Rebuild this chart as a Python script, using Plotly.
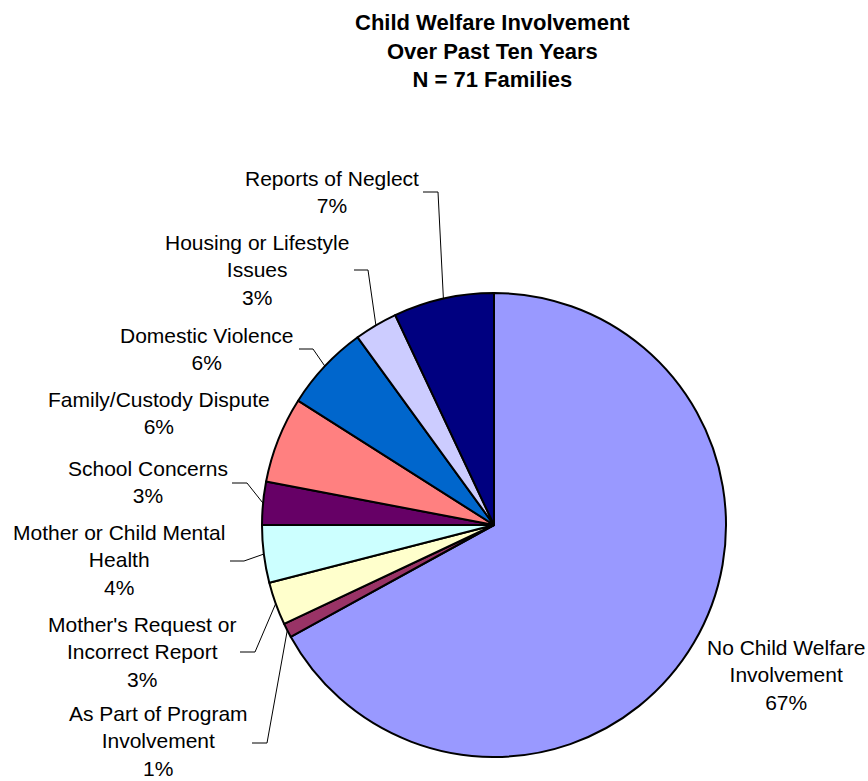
import math
import plotly.graph_objects as go

# data (slices in clockwise order from 12 o'clock)
categories = [
    "No Child Welfare<br>Involvement",
    "As Part of Program<br>Involvement",
    "Mother's Request or<br>Incorrect Report",
    "Mother or Child Mental<br>Health",
    "School Concerns",
    "Family/Custody Dispute",
    "Domestic Violence",
    "Housing or Lifestyle<br>Issues",
    "Reports of Neglect",
]
percents = [67, 1, 3, 4, 3, 6, 6, 3, 7]
colors = ["#9999FF", "#993366", "#FFFFCC", "#CCFFFF", "#660066",
          "#FF8080", "#0066CC", "#CCCCFF", "#000080"]

# layout (pixels in the 868x781 page)
W, H = 868, 781
CX, CY, R = 494, 525, 232

# label centre and leader elbow / end for each slice (None = no leader line)
label_pos = [(786, 675), (158, 741), (142, 652), (119, 560), (148, 482),
             (159, 413), (207, 349), (257, 270), (332, 192)]
leaders = [None, ((267, 743), (252, 743)), ((255, 652), (240, 652)),
           ((244, 561), (230, 561)), ((247, 483), (232, 483)), None,
           ((313, 349), (299, 349)), ((368, 270), (354, 270)),
           ((438, 192), (423, 192))]


def px(x):
    return x / W


def py(y):
    return 1 - y / H


fig = go.Figure()

fig.add_trace(go.Pie(
    labels=categories,
    values=percents,
    marker=dict(colors=colors, line=dict(color="black", width=2)),
    sort=False,
    direction="clockwise",
    rotation=0,
    textinfo="none",
    hoverinfo="label+percent",
    domain=dict(x=[px(CX - R), px(CX + R)], y=[py(CY + R), py(CY - R)]),
    showlegend=False,
))

annotations = []
shapes = []
total = sum(percents)
cum = 0
for i, (cat, p) in enumerate(zip(categories, percents)):
    mid = math.radians(360 * (cum + p / 2) / total)
    cum += p
    lx, ly = label_pos[i]
    annotations.append(dict(
        x=px(lx), y=py(ly), xref="paper", yref="paper",
        text=f"{cat}<br>{p}%", showarrow=False,
        xanchor="center", yanchor="middle", align="center",
        font=dict(size=21, color="black"),
    ))
    if leaders[i] is not None:
        ex = CX + R * math.sin(mid)
        ey = CY - R * math.cos(mid)
        (bx, by), (tx, ty) = leaders[i]
        shapes.append(dict(
            type="path", xref="paper", yref="paper",
            path=f"M {px(ex)},{py(ey)} L {px(bx)},{py(by)} L {px(tx)},{py(ty)}",
            line=dict(color="black", width=1),
        ))

annotations.append(dict(
    x=px(492), y=py(51), xref="paper", yref="paper",
    text="<b>Child Welfare Involvement<br>Over Past Ten Years<br>N = 71 Families</b>",
    showarrow=False, xanchor="center", yanchor="middle", align="center",
    font=dict(size=22, color="black"),
))

fig.update_layout(
    width=W, height=H,
    margin=dict(l=0, r=0, t=0, b=0),
    paper_bgcolor="white",
    plot_bgcolor="white",
    font=dict(family="Liberation Sans, Arial, sans-serif", color="black"),
    annotations=annotations,
    shapes=shapes,
)

# drop the default body margin so the figure fills the window exactly
fig.write_html("out.html", config={"displayModeBar": False},
               post_script="document.body.style.margin='0px';")
